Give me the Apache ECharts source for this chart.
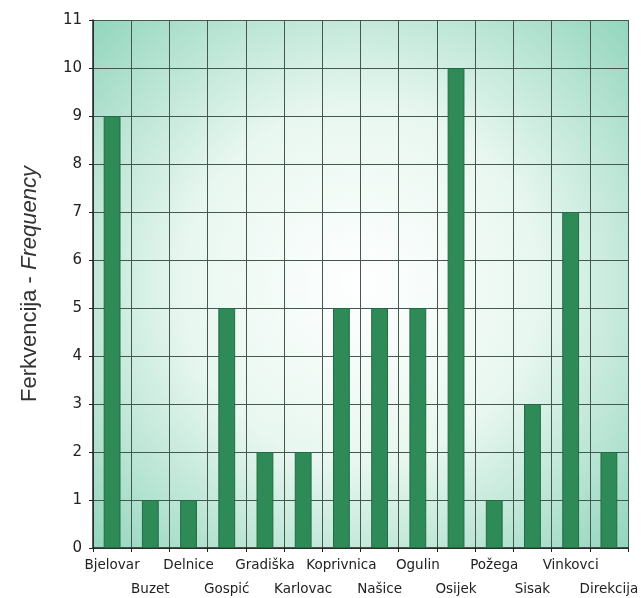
<!DOCTYPE html>
<html>
<head>
<meta charset="utf-8">
<script src="https://cdn.jsdelivr.net/npm/echarts@6/dist/echarts.min.js"></script>
<style>
html,body{margin:0;padding:0;background:#fff;}
#chart{width:641px;height:598px;}
</style>
</head>
<body>
<div id="chart"></div>
<script>
// Offices along the x axis and the count for each
const offices = ['Bjelovar','Buzet','Delnice','Gospić','Gradiška','Karlovac','Koprivnica','Našice','Ogulin','Osijek','Požega','Sisak','Vinkovci','Direkcija'];
const counts = [9, 1, 1, 5, 2, 2, 5, 5, 5, 10, 1, 3, 7, 2];
const yTicks = [0,1,2,3,4,5,6,7,8,9,10,11];

const chart = echarts.init(document.getElementById('chart'));
chart.setOption({
  animation: false,
  grid: {
    left: 93, right: 13, top: 20, bottom: 50,
    outerBoundsMode: 'none',
    containLabel: false,
    show: true,
    borderWidth: 0,
    backgroundColor: new echarts.graphic.RadialGradient(0.5, 0.5, 0.75, [
      {offset: 0, color: '#ffffff'},
      {offset: 0.45, color: '#e8f7f0'},
      {offset: 1, color: '#8ad2b8'}
    ])
  },
  xAxis: {
    type: 'category',
    data: offices,
    boundaryGap: true,
    axisLine: {show: true, lineStyle: {color: '#222', width: 1.5}},
    axisTick: {show: true, alignWithLabel: false, length: 4, lineStyle: {color: '#222'}},
    splitLine: {show: true, lineStyle: {color: '#45584e', width: 1}},
    axisLabel: {
      interval: 0,
      color: '#222',
      fontFamily: 'DejaVu Sans, sans-serif',
      fontSize: 13.5,
      lineHeight: 24,
      margin: 5,
      formatter: function (v, i) { return i % 2 ? '\n' + v : v; }
    }
  },
  yAxis: {
    type: 'value',
    min: 0, max: 11, interval: 1,
    name: '{a|Ferkvencija - }{b|Frequency}',
    nameLocation: 'middle',
    nameGap: 52,
    nameRotate: 90,
    nameTextStyle: {
      rich: {
        a: {fontSize: 22, color: '#333', fontFamily: 'Liberation Sans, Arial, sans-serif'},
        b: {fontSize: 22, color: '#333', fontStyle: 'italic', fontFamily: 'Liberation Sans, Arial, sans-serif'}
      }
    },
    axisLine: {show: true, lineStyle: {color: '#222', width: 1.5}},
    axisTick: {show: true, length: 4, lineStyle: {color: '#222'}},
    splitLine: {show: true, lineStyle: {color: '#45584e', width: 1}},
    axisLabel: {
      color: '#222',
      fontFamily: 'DejaVu Sans, sans-serif',
      fontSize: 15,
      margin: 11,
      formatter: function (v) { return yTicks.indexOf(v) >= 0 ? String(v) : ''; }
    }
  },
  series: [{
    type: 'bar',
    data: counts,
    barWidth: '44%',
    itemStyle: {color: '#2e8a57', borderColor: '#236b43', borderWidth: 1}
  }]
});
</script>
</body>
</html>
